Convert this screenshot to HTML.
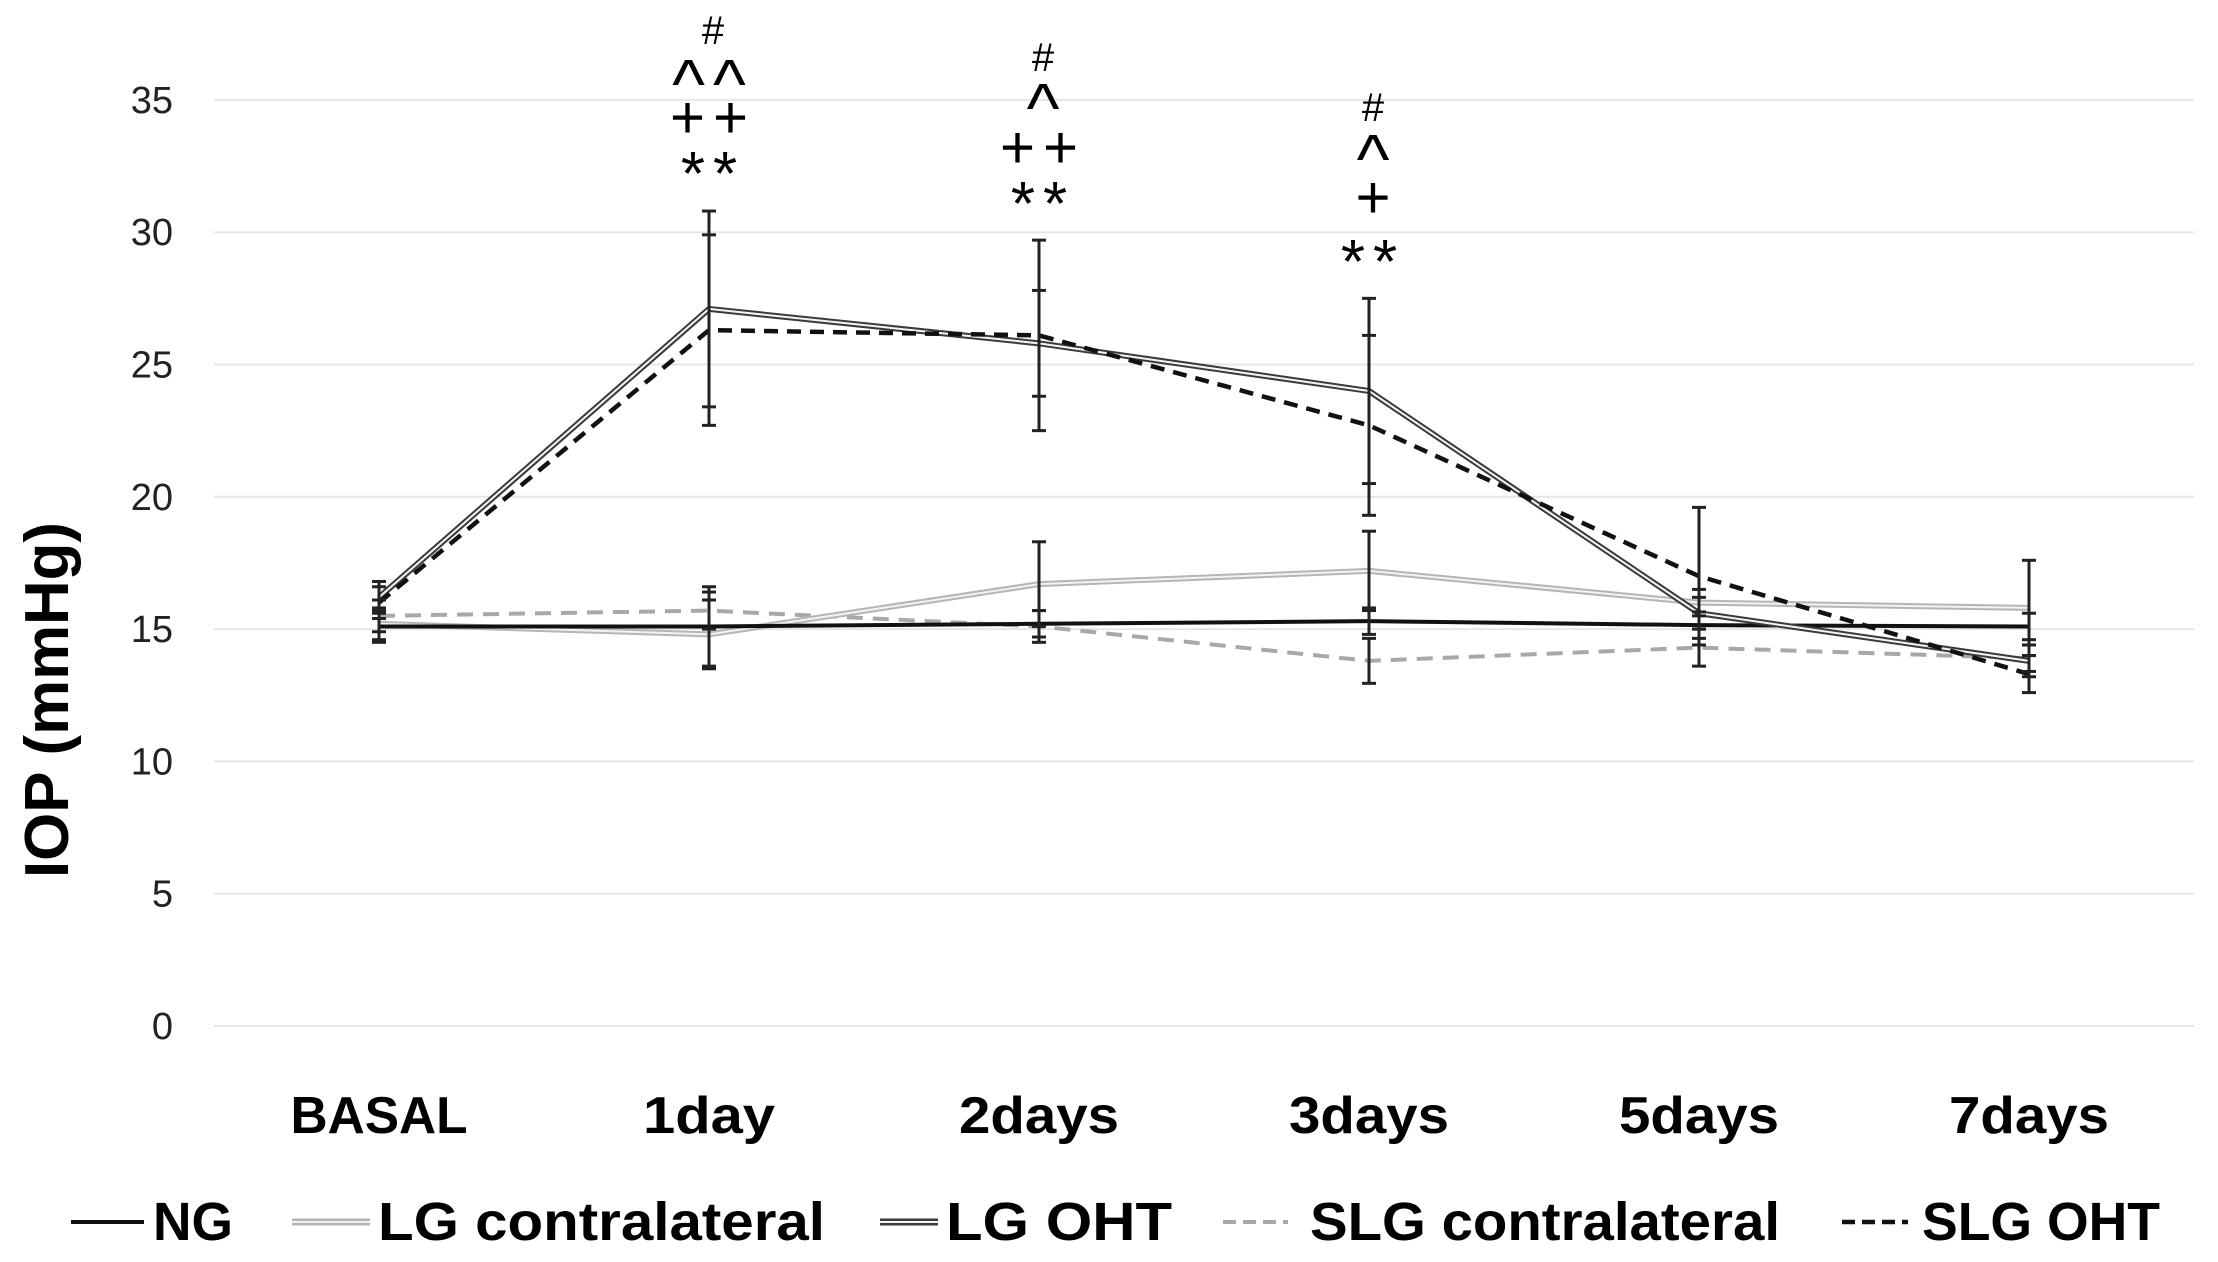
<!DOCTYPE html>
<html><head><meta charset="utf-8"><style>
html,body{margin:0;padding:0;background:#fff;}
svg{display:block;font-family:"Liberation Sans",sans-serif;}
</style></head><body>
<svg id="chart" width="2218" height="1262" viewBox="0 0 2218 1262" xmlns="http://www.w3.org/2000/svg">
<g id="grid"></g>
<g id="yticks"></g>
<g id="xticks"></g>
<g id="series"></g>
<g id="errs"></g>
<g id="annot"></g>
<text transform="translate(68,700) rotate(-90)" text-anchor="middle" font-size="62" font-weight="bold" textLength="356" lengthAdjust="spacingAndGlyphs">IOP (mmHg)</text>
<g id="legend"></g>
</svg>
<script>
const categories = ["BASAL","1day","2days","3days","5days","7days"];
const yTicks = [0,5,10,15,20,25,30,35];
const ngVals = [15.1,15.1,15.2,15.3,15.15,15.1];
const lgContraVals = [15.2,14.8,16.7,17.2,16.0,15.8];
const lgOhtVals = [16.2,27.1,25.8,24.0,15.6,13.8];
const slgContraVals = [15.5,15.7,15.1,13.8,14.3,13.9];
const slgOhtVals = [16.0,26.3,26.1,22.7,17.0,13.3];
const ngErr = [0.6,1.5,0.5,0.5,0.5,0.5];
const lgContraErr = [0.6,1.3,1.6,1.5,0.5,1.8];
const lgOhtErr = [0.6,3.7,2.0,3.5,0.6,0.6];
const slgContraErr = [0.6,0.7,0.6,0.85,0.7,0.5];
const slgOhtErr = [0.6,3.6,3.6,3.4,2.6,0.7];
const annotations = [
  {cat:1, rows:["#","^^","++","**"]},
  {cat:2, rows:["#","^","++","**"]},
  {cat:3, rows:["#","^","+","**"]}
];
const annotY = [[30,82,118,168],[57,106,148,198],[107,157,198,256]];

const NS="http://www.w3.org/2000/svg";
const left=214, band=330, y0=1026, pxPer=26.46;
const xScale=i=>left+band/2+i*band;
const yScale=v=>y0-v*pxPer;
function mk(tag,attrs,parent){const e=document.createElementNS(NS,tag);for(const k in attrs)e.setAttribute(k,attrs[k]);parent.appendChild(e);return e;}

const grid=document.getElementById('grid'), yt=document.getElementById('yticks');
yTicks.forEach(t=>{
  const l=mk('line',{x1:left,x2:left+band*6,y1:yScale(t),y2:yScale(t),stroke:'#e6e6e6','stroke-width':2},grid);
  
  
  const tx=mk('text',{x:173,y:yScale(t)+13,'text-anchor':'end','font-size':38,fill:'#222'},yt);
  tx.textContent=t;
  
  
});
const xt=document.getElementById('xticks');
const xw=[177,132,160,160,160,160];
categories.forEach((c,i)=>{
  const tx=mk('text',{x:xScale(i),y:1133,'text-anchor':'middle','font-size':52,'font-weight':'bold',textLength:xw[i],lengthAdjust:'spacingAndGlyphs'},xt);
  tx.textContent=c;
  
  
});
const ser=document.getElementById('series');
function pts(vals){return vals.map((v,i)=>xScale(i)+','+yScale(v)).join(' ');}
function line(vals,layers,name){
  const g=mk('g',{},ser);
  
  
  layers.forEach(L=>mk('polyline',Object.assign({points:pts(vals),fill:'none','stroke-linejoin':'miter'},L),g));
}
line(slgContraVals,[{stroke:'#a8a8a8','stroke-width':4,'stroke-dasharray':'16 10'}],'series-slg-contralateral');
line(lgContraVals,[{stroke:'#b5b5b5','stroke-width':6},{stroke:'#f2f2f2','stroke-width':2}],'series-lg-contralateral');
line(ngVals,[{stroke:'#111','stroke-width':4}],'series-ng');
line(lgOhtVals,[{stroke:'#3a3a3a','stroke-width':6},{stroke:'#f4f4f4','stroke-width':2}],'series-lg-oht');
line(slgOhtVals,[{stroke:'#111','stroke-width':4.5,'stroke-dasharray':'14 9'}],'series-slg-oht');

const errs=document.getElementById('errs');
function ebars(vals,err,name){
  vals.forEach((v,i)=>{
    const g=mk('g',{stroke:'#222','stroke-width':3},errs);
    
    
    const x=xScale(i), a=yScale(v+err[i]), b=yScale(v-err[i]);
    mk('line',{x1:x,x2:x,y1:a,y2:b},g);
    mk('line',{x1:x-7,x2:x+7,y1:a,y2:a},g);
    mk('line',{x1:x-7,x2:x+7,y1:b,y2:b},g);
  });
}
ebars(ngVals,ngErr,'ng');ebars(lgContraVals,lgContraErr,'lg-contralateral');
ebars(lgOhtVals,lgOhtErr,'lg-oht');ebars(slgContraVals,slgContraErr,'slg-contralateral');
ebars(slgOhtVals,slgOhtErr,'slg-oht');

const an=document.getElementById('annot');
annotations.forEach((a,k)=>{
  a.rows.forEach((r,j)=>{
    const isHash=r==='#';
    const fs=isHash?40:(r.startsWith('^')?70:(r.startsWith('+')?60:62));
    const dy=isHash?14:(r.startsWith('^')?26:(r.startsWith('+')?20:27));
    const tx=mk('text',{x:xScale(a.cat)+4,y:annotY[k][j]+dy,'text-anchor':'middle','font-size':fs,'letter-spacing':r.length>1?8:0},an);
    tx.textContent=r;
    
    
  });
});

const lg=document.getElementById('legend');
const legendItems=[
  {label:'NG',x1:71,x2:144,tx:153,tw:80,L:[{stroke:'#111','stroke-width':4}]},
  {label:'LG contralateral',x1:292,x2:370,tx:378,tw:447,L:[{stroke:'#b5b5b5','stroke-width':7},{stroke:'#f2f2f2','stroke-width':2}]},
  {label:'LG OHT',x1:880,x2:938,tx:946,tw:226,L:[{stroke:'#3a3a3a','stroke-width':7},{stroke:'#f4f4f4','stroke-width':2}]},
  {label:'SLG contralateral',x1:1223,x2:1288,tx:1310,tw:470,L:[{stroke:'#a8a8a8','stroke-width':4,'stroke-dasharray':'13 7'}]},
  {label:'SLG OHT',x1:1842,x2:1908,tx:1922,tw:238,L:[{stroke:'#111','stroke-width':4.5,'stroke-dasharray':'13 7'}]}
];
legendItems.forEach(it=>{
  const g=mk('g',{},lg);
  
  
  it.L.forEach(L=>mk('line',Object.assign({x1:it.x1,x2:it.x2,y1:1222,y2:1222},L),g));
  const t=mk('text',{x:it.tx,y:1240,'font-size':54,'font-weight':'bold',textLength:it.tw,lengthAdjust:'spacingAndGlyphs'},g);
  t.textContent=it.label;
});
</script>
</body></html>
